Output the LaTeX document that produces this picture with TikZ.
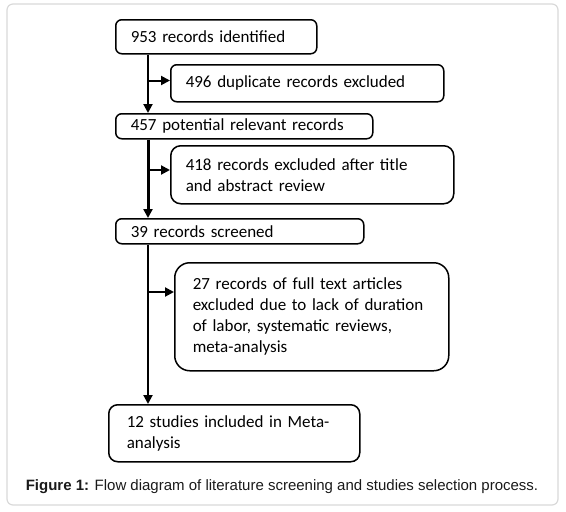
\documentclass[tikz,border=0pt]{standalone}
\usepackage{fontspec}
\setmainfont{Carlito}
\newfontfamily\capfont{Liberation Sans}
\usetikzlibrary{arrows.meta}
\definecolor{framegray}{HTML}{D9D9D9}
\definecolor{captext}{HTML}{1A1A1A}
\tikzset{
  stagebox/.style={draw=black, line width=1.5pt, rounded corners=6pt, anchor=north west,
    align=left, inner xsep=15pt, inner ysep=0pt, font=\fontsize{17}{21}\selectfont, text=black},
  flowline/.style={draw=black, line width=2pt},
  flowarrow/.style={flowline, -{Triangle[length=9pt,width=9pt]}},
}
\begin{document}
\begin{tikzpicture}[x=1pt,y=-1pt]
  \useasboundingbox (0,0) rectangle (566,512);
  \draw[framegray, line width=1.2pt, rounded corners=6pt] (7,4) rectangle (558,505);

  \node[stagebox, text width=171pt, minimum height=34pt] (b1) at (115,19) {953 records identified};
  \node[stagebox, text width=243pt, minimum height=37pt] (b2) at (170,64) {496 duplicate records excluded};
  \node[stagebox, text width=227pt, minimum height=25pt] (b3) at (115,113) {457 potential relevant records};
  \node[stagebox, rounded corners=10pt, text width=253pt, minimum height=58pt] (b4) at (170,145) {418 records excluded after title\\and abstract review};
  \node[stagebox, text width=218pt, minimum height=25pt] (b5) at (115,218) {39 records screened};
  \node[stagebox, rounded corners=15pt, inner xsep=18pt, text width=238pt, minimum height=108pt] (b6) at (174,262) {27 records of full text articles\\excluded due to lack of duration\\of labor, systematic reviews,\\meta-analysis};
  \node[stagebox, rounded corners=9pt, inner xsep=18pt, text width=215pt, minimum height=57pt] (b7) at (108,404) {12 studies included in Meta-\\analysis};

  \coordinate (spine) at (148,0);
  \coordinate (j1) at (148,80.5);
  \coordinate (j2) at (148,170);
  \coordinate (j3) at (148,292);

  \draw[flowarrow] (b1.south -| spine) -- (b3.north -| spine);
  \draw[flowarrow, line width=3pt] (b3.south -| spine) -- (b5.north -| spine);
  \draw[flowarrow] (b5.south -| spine) -- (b7.north -| spine);

  \draw[flowarrow] (j1) -- (j1 -| b2.west);
  \draw[flowarrow] (j2) -- (j2 -| b4.west);
  \draw[flowarrow] (j3) -- (j3 -| b6.west);

  \node[font=\capfont\fontsize{15}{18}\selectfont, text=captext, inner sep=0pt] (cap) at (282,487)
    {\textbf{Figure 1:} Flow diagram of literature screening and studies selection process.};
\end{tikzpicture}
\end{document}
